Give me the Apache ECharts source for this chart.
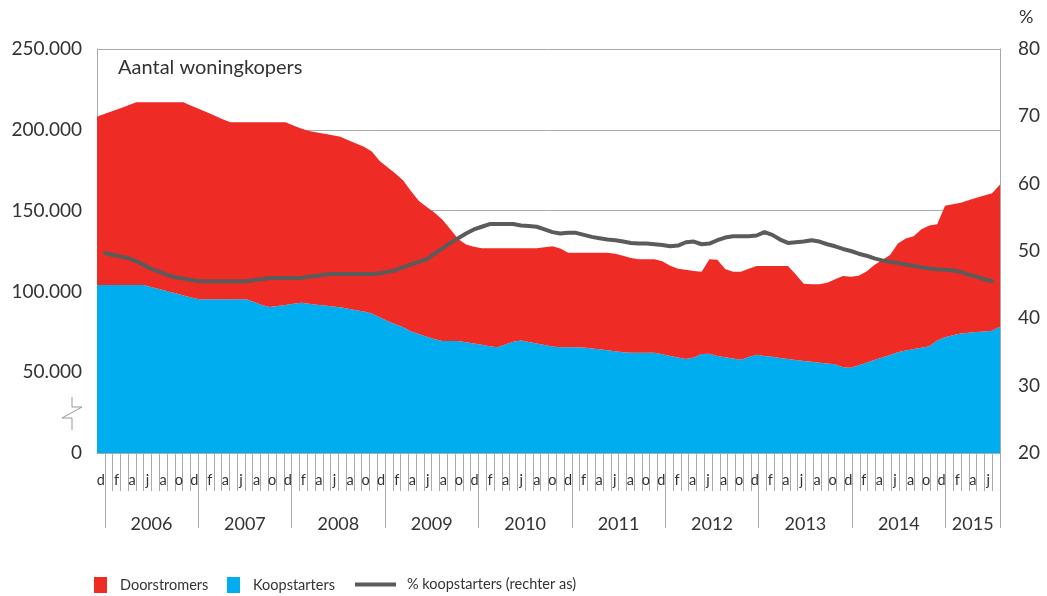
<!DOCTYPE html>
<html><head><meta charset="utf-8">
<script src="https://cdn.jsdelivr.net/npm/echarts@6/dist/echarts.min.js"></script>
<style>html,body{margin:0;padding:0;background:#fff}#chart{width:1047px;height:596px}</style>
</head><body><div id="chart"></div>
<script>
// Months: December 2005 .. July 2015 (116 months)
const monthInitials = ['j','f','m','a','m','j','j','a','s','o','n','d'];
const categories = [];
for (let k = 0; k < 116; k++) {
  const m = (11 + k) % 12;
  const y = 2005 + Math.floor((11 + k) / 12);
  categories.push(monthInitials[m] + ' ' + y);
}
const yearLabels = ['2006','2007','2008','2009','2010','2011','2012','2013','2014','2015'];

const koopstarters = [
104000,104000,104000,104000,104000,104000,104000,
102500,101300,100100,98800,97500,96200,
95100,95100,95100,95100,95100,95100,95100,
93400,91600,90300,91000,91600,92400,92900,92400,91800,91300,90700,90200,
89200,88400,87500,86300,84000,81700,79600,77800,75200,73600,72000,70400,
69300,69300,69300,68500,67800,67000,66100,65500,67200,68800,69600,68700,
67800,66800,65900,65400,65400,65400,65300,64700,64200,63600,63000,62400,
62100,62100,62100,62100,61100,60100,59100,58100,59100,61200,61400,60000,
59200,58500,57700,59400,60800,60100,59500,58800,58200,57500,57000,56400,
55900,55400,54900,53000,52800,54300,55900,57500,59100,60600,62300,63400,
64300,65200,66100,69600,71700,72800,73900,74400,74800,75200,75700,78200
];
const doorstromers = [
104100,105900,107600,109400,111200,113000,113000,
114500,115700,116900,118200,119500,118700,
117700,115700,113600,111500,109500,109500,109500,
111200,113000,114300,113600,113000,110300,107900,106800,106500,106200,105900,105500,
104400,103100,102000,100200,96700,95100,93400,90900,86700,82400,80300,78300,
75100,69100,63200,60500,59900,59700,60600,61200,59500,57900,57100,58000,
58900,60500,62100,61100,58500,58500,58600,59200,59700,60300,60300,59600,
58500,57800,57800,57800,57500,55800,54900,55300,53600,51000,58500,59600,
54700,53700,54500,54600,54900,55600,56200,56900,57500,52900,47800,48000,
48500,50000,52600,56500,56300,55400,56400,58800,60300,61900,67300,69400,
69900,73300,74700,71900,81300,81100,81000,82000,83100,84100,85100,87900
];
const pctKoopstarters = [
null,49.7,49.4,49.2,48.9,48.5,47.9,
47.3,46.9,46.4,46.1,45.9,45.7,
45.5,45.5,45.5,45.5,45.5,45.5,45.5,
45.7,45.8,46.0,46.0,46.0,46.0,46.0,46.2,46.3,46.5,46.6,46.6,
46.6,46.6,46.6,46.6,46.7,46.9,47.1,47.6,48.0,48.4,48.8,49.6,
50.4,51.2,51.9,52.6,53.2,53.6,54.0,54.0,54.0,54.0,53.8,53.7,
53.6,53.2,52.8,52.6,52.7,52.7,52.4,52.1,51.9,51.7,51.6,51.4,
51.2,51.1,51.1,51.0,50.9,50.7,50.8,51.3,51.4,51.0,51.1,51.6,
52.0,52.2,52.2,52.2,52.3,52.8,52.4,51.7,51.2,51.3,51.4,51.6,
51.4,51.0,50.7,50.3,50.0,49.6,49.3,48.9,48.6,48.4,48.2,48.0,
47.8,47.6,47.4,47.3,47.2,47.1,46.9,46.5,46.2,45.8,45.5,null
];

// year group boundaries / centres derived from the categories
const yearStarts = [], yearCenters = [];
yearLabels.forEach(y => {
  const first = categories.findIndex(c => c.endsWith(y));
  let last = -1; categories.forEach((c, i) => { if (c.endsWith(y)) last = i; });
  yearStarts.push(first);
  yearCenters.push((first + last + 1) / 2);
});
const yearTicks = yearStarts.concat([categories.length]);

const FONT = 'Lato';
const TXT = '#333333';
const LINE = '#aaaaaa';
const fmtThousands = v => String(v).replace(/\B(?=(\d{3})+(?!\d))/g, '.');

const chart = echarts.init(document.getElementById('chart'), null, {renderer: 'canvas'});
const legendBase = {
  top: 577, padding: 0, icon: 'rect', itemWidth: 13, itemHeight: 16, selectedMode: false,
  textStyle: {fontSize: 14.5, color: TXT, fontFamily: FONT, padding: [0, 0, 0, 8]}
};
chart.setOption({
  animation: false,
  textStyle: {fontFamily: FONT},
  title: {text: 'Aantal woningkopers', left: 118, top: 58, padding: 0,
    textStyle: {fontSize: 20, fontWeight: 'normal', color: TXT, fontFamily: FONT}},
  legend: [
    Object.assign({}, legendBase, {left: 94, data: ['Doorstromers']}),
    Object.assign({}, legendBase, {left: 227, data: ['Koopstarters']}),
    Object.assign({}, legendBase, {left: 355, top: 577, icon: 'rect', itemWidth: 41, itemHeight: 4,
      itemStyle: {color: '#5B5B5B'},
      textStyle: {fontSize: 14.5, color: TXT, fontFamily: FONT, padding: [0, 0, 0, 6]},
      data: ['% koopstarters (rechter as)']})
  ],
  grid: {left: 97, right: 47, top: 49, bottom: 143, containLabel: false, outerBoundsMode: 'none'},
  xAxis: [
    { // month initials + monthly ticks
      type: 'category', data: categories, boundaryGap: true, position: 'bottom',
      axisLine: {show: true, lineStyle: {color: LINE, width: 1}},
      axisTick: {show: true, interval: (i) => i > 0, length: 38, lineStyle: {color: LINE, width: 1}},
      axisLabel: {interval: 1, margin: 20, fontSize: 14.5, color: TXT, fontFamily: FONT,
        formatter: v => v.charAt(0)},
      splitLine: {show: false}
    },
    { // year groups
      type: 'value', min: 0, max: categories.length, position: 'bottom',
      axisLine: {show: false},
      axisTick: {show: true, customValues: yearTicks, length: 75, lineStyle: {color: LINE, width: 1}},
      axisLabel: {show: true, customValues: yearCenters, margin: 62, fontSize: 18, color: TXT, fontFamily: FONT,
        formatter: v => { const k = yearCenters.indexOf(v); return k >= 0 ? yearLabels[k] : ''; }},
      splitLine: {show: false}
    },
    { // data axis
      type: 'category', data: categories, boundaryGap: false, position: 'bottom', show: false
    }
  ],
  yAxis: [
    {
      type: 'value', min: 0, max: 250000, interval: 50000, position: 'left',
      axisLine: {show: true, lineStyle: {color: LINE, width: 1}},
      axisTick: {show: false},
      axisLabel: {margin: 15, fontSize: 19, color: TXT, fontFamily: FONT, formatter: fmtThousands},
      splitLine: {show: true, lineStyle: {color: LINE, width: 1}}
    },
    {
      type: 'value', min: 20, max: 80, interval: 10, position: 'right',
      axisLine: {show: true, lineStyle: {color: LINE, width: 1}},
      axisTick: {show: false},
      axisLabel: {margin: 18, fontSize: 19, color: TXT, fontFamily: FONT},
      splitLine: {show: false}
    }
  ],
  graphic: [
    {type: 'text', left: 1019, top: 8, style: {text: '%', fontSize: 18, fill: TXT, fontFamily: FONT}},
    {type: 'polyline', shape: {points: [[72,397],[72,407],[82,407],[62,418],[72,418],[72,430]]},
      style: {stroke: '#999999', lineWidth: 1, fill: null}}
  ],
  series: [
    {name: 'Koopstarters', type: 'line', stack: 'total', xAxisIndex: 2, yAxisIndex: 0,
      data: koopstarters, symbol: 'none', lineStyle: {width: 0}, color: '#00AEEF',
      itemStyle: {color: '#00AEEF'}, areaStyle: {color: '#00AEEF', opacity: 1}, z: 2},
    {name: 'Doorstromers', type: 'line', stack: 'total', xAxisIndex: 2, yAxisIndex: 0,
      data: doorstromers, symbol: 'none', lineStyle: {width: 0}, color: '#EE2B24',
      itemStyle: {color: '#EE2B24'}, areaStyle: {color: '#EE2B24', opacity: 1}, z: 2},
    {name: '% koopstarters (rechter as)', type: 'line', xAxisIndex: 2, yAxisIndex: 1,
      data: pctKoopstarters, symbol: 'none', color: '#5B5B5B',
      lineStyle: {width: 4, color: '#5B5B5B', join: 'round', cap: 'round'}, z: 3}
  ]
});
</script></body></html>
